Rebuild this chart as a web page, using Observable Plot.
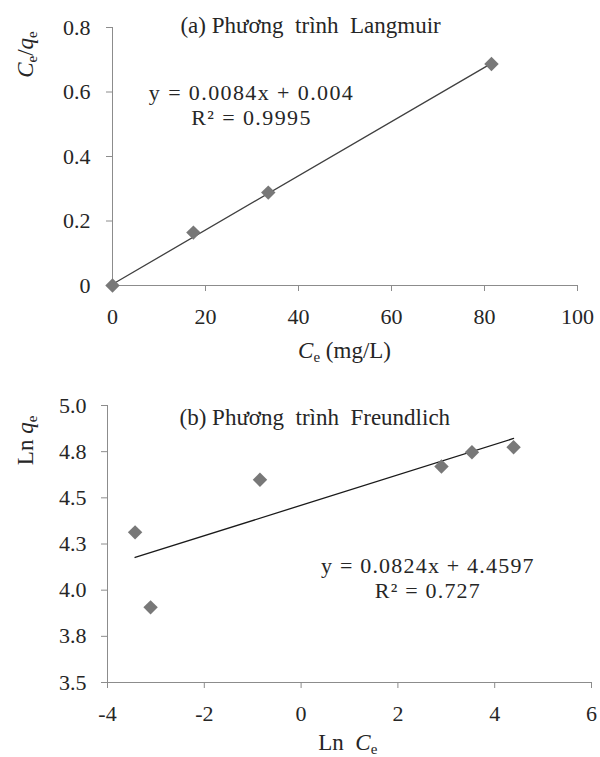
<!DOCTYPE html>
<html>
<head>
<meta charset="utf-8">
<script src="https://cdn.jsdelivr.net/npm/d3@7"></script>
<script src="https://cdn.jsdelivr.net/npm/@observablehq/plot@0.6"></script>
<style>
  html, body { margin: 0; padding: 0; background: #fff; }
  #chart svg { display: block; }
</style>
</head>
<body>
<div id="chart"></div>
<script>
// ---------- (a) Langmuir ----------
const langmuirCe = [0, 17.4, 33.5, 81.5];
const langmuirCeQe = [0, 0.164, 0.288, 0.687];
const langmuirSlope = 0.0084;
const langmuirIntercept = 0.004;
const langmuirXTicks = [0, 20, 40, 60, 80, 100];
const langmuirXTickLabels = ["0", "20", "40", "60", "80", "100"];
const langmuirYTicks = [0, 0.2, 0.4, 0.6, 0.8];
const langmuirYTickLabels = ["0", "0.2", "0.4", "0.6", "0.8"];
const langmuirTitle = "(a) Phương  trình  Langmuir";
const langmuirEquation = "y = 0.0084x + 0.004";
const langmuirR2 = "R² = 0.9995";
const langmuirXLabel = "Ce (mg/L)";
const langmuirYLabel = "Ce/qe";

// ---------- (b) Freundlich ----------
const freundLnCe = [-3.43, -3.11, -0.85, 2.90, 3.53, 4.39];
const freundLnQe = [4.313, 3.907, 4.598, 4.670, 4.747, 4.774];
const freundSlope = 0.0824;
const freundIntercept = 4.4597;
const freundXTicks = [-4, -2, 0, 2, 4, 6];
const freundXTickLabels = ["-4", "-2", "0", "2", "4", "6"];
const freundYTicks = [3.5, 3.75, 4.0, 4.25, 4.5, 4.75, 5.0];
const freundYTickLabels = ["3.5", "3.8", "4.0", "4.3", "4.5", "4.8", "5.0"];
const freundTitle = "(b) Phương  trình  Freundlich";
const freundEquation = "y = 0.0824x + 4.4597";
const freundR2 = "R² = 0.727";
const freundXLabel = "Ln Ce";
const freundYLabel = "Ln qe";

const FONT = "Liberation Serif";
const TEXT = "#262626";
const AXIS = "#8c8c8c";
const MARKER = "#787878";

const pointsA = langmuirCe.map((x, i) => ({x, y: langmuirCeQe[i]}));
const pointsB = freundLnCe.map((x, i) => ({x, y: freundLnQe[i]}));
const lineA = [d3.min(langmuirCe), d3.max(langmuirCe)].map(x => ({x, y: langmuirSlope * x + langmuirIntercept}));
const lineB = [d3.min(freundLnCe), d3.max(freundLnCe)].map(x => ({x, y: freundSlope * x + freundIntercept}));

function fmt(ticks, labels) {
  return d => { const i = ticks.findIndex(t => Math.abs(t - d) < 1e-9); return i >= 0 ? labels[i] : ""; };
}

const txt = {fill: TEXT, fontSize: 23, fontFamily: FONT};
const eqTxt = {fill: TEXT, fontSize: 22, fontFamily: FONT};

const plotA = Plot.plot({
  width: 600, height: 380,
  marginLeft: 112, marginRight: 23, marginTop: 27, marginBottom: 95,
  style: {fontFamily: FONT, fontSize: "22px", color: AXIS, background: "#fff", overflow: "visible"},
  x: {domain: [0, 100], ticks: langmuirXTicks, tickFormat: fmt(langmuirXTicks, langmuirXTickLabels),
      tickSize: 6, tickPadding: 17, label: null, line: true},
  y: {domain: [0, 0.8], ticks: langmuirYTicks, tickFormat: fmt(langmuirYTicks, langmuirYTickLabels),
      tickSize: 6, tickPadding: 16, label: null, line: true},
  marks: [
    Plot.line(lineA, {x: "x", y: "y", stroke: "#404040", strokeWidth: 1.3}),
    Plot.dot(pointsA, {x: "x", y: "y", symbol: "diamond2", r: 6.5, fill: MARKER, stroke: "none"}),
    Plot.text([langmuirTitle], {text: d => d, x: 42.6, y: 0.806, ...txt}),
    Plot.text([langmuirEquation], {text: d => d, x: 29.9, y: 0.597, ...eqTxt}),
    Plot.text([langmuirR2], {text: d => d, x: 29.9, y: 0.521, ...eqTxt}),
    Plot.text([langmuirXLabel], {text: d => d, x: 49.9, y: -0.2016, ...txt}),
    Plot.text([langmuirYLabel], {text: d => d, x: -18.7, y: 0.716, rotate: -90, ...txt})
  ]
});

const plotB = Plot.plot({
  width: 600, height: 377,
  marginLeft: 107, marginRight: 9, marginTop: 25, marginBottom: 75,
  style: {fontFamily: FONT, fontSize: "22px", color: AXIS, background: "#fff", overflow: "visible"},
  x: {domain: [-4, 6], ticks: freundXTicks, tickFormat: fmt(freundXTicks, freundXTickLabels),
      tickSize: 6, tickPadding: 17, label: null, line: true},
  y: {domain: [3.5, 5.0], ticks: freundYTicks, tickFormat: fmt(freundYTicks, freundYTickLabels),
      tickSize: 6, tickPadding: 15, label: null, line: true},
  marks: [
    Plot.line(lineB, {x: "x", y: "y", stroke: "#1a1a1a", strokeWidth: 1.3}),
    Plot.dot(pointsB, {x: "x", y: "y", symbol: "diamond2", r: 6.5, fill: MARKER, stroke: "none"}),
    Plot.text([freundTitle], {text: d => d, x: 0.283, y: 4.935, ...txt}),
    Plot.text([freundEquation], {text: d => d, x: 2.62, y: 4.133, ...eqTxt}),
    Plot.text([freundR2], {text: d => d, x: 2.62, y: 3.995, ...eqTxt}),
    Plot.text([freundXLabel], {text: d => d, x: 0.965, y: 3.175, ...txt}),
    Plot.text([freundYLabel], {text: d => d, x: -5.69, y: 4.811, rotate: -90, ...txt})
  ]
});

function finish(svg) {
  const s = d3.select(svg);
  s.attr("font-family", FONT);
  s.selectAll("g").attr("font-family", FONT);
  s.selectAll("text").attr("fill", TEXT).attr("font-family", FONT).style("font-family", FONT).style("white-space", "pre");
}

function spaced(svg, strings, px) {
  d3.select(svg).selectAll("text").filter(function () { return strings.includes(this.textContent); })
    .style("letter-spacing", px + "px").attr("letter-spacing", px);
}

function rich(svg, plain, parts) {
  d3.select(svg).selectAll("text").filter(function () { return this.textContent === plain; }).each(function () {
    const t = d3.select(this);
    t.text(null);
    let shifted = false;
    for (const p of parts) {
      const sp = t.append("tspan").text(p.t);
      if (p.i) sp.attr("font-style", "italic");
      if (p.sub) { sp.attr("font-size", "15px").attr("dy", "4"); shifted = true; }
      else if (shifted) { sp.attr("dy", "-4"); shifted = false; }
    }
  });
}

finish(plotA); finish(plotB);
spaced(plotA, [langmuirEquation, langmuirR2], 1.4);
spaced(plotB, [freundEquation, freundR2], 1.2);
rich(plotA, langmuirXLabel, [{t: "C", i: true}, {t: "e", sub: true}, {t: " (mg/L)"}]);
rich(plotA, langmuirYLabel, [{t: "C", i: true}, {t: "e", sub: true}, {t: "/"}, {t: "q", i: true}, {t: "e", sub: true}]);
rich(plotB, freundXLabel, [{t: "Ln  "}, {t: "C", i: true}, {t: "e", sub: true}]);
rich(plotB, freundYLabel, [{t: "Ln "}, {t: "q", i: true}, {t: "e", sub: true}]);

document.getElementById("chart").append(plotA, plotB);
</script>
</body>
</html>
